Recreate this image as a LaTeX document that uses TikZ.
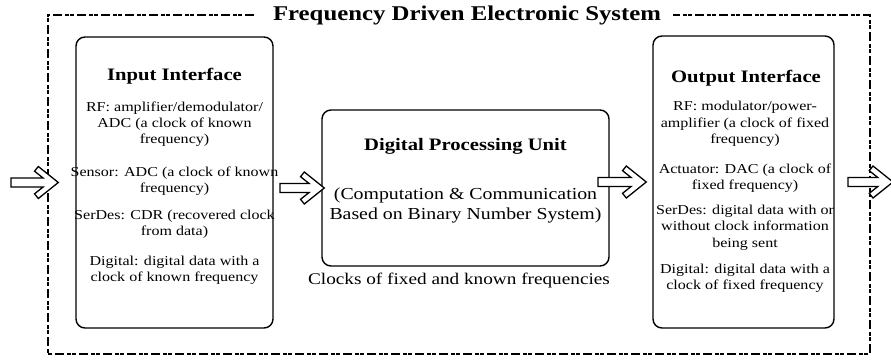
\documentclass[tikz,border=0pt]{standalone}
\usepackage{fontspec}
\setmainfont{Liberation Serif}[FakeStretch=1.18]
\usetikzlibrary{calc}

\tikzset{
  frame/.style={line width=2pt, dash pattern=on 9pt off 3pt on 4pt off 1pt on 4pt off 3pt},
  unit/.style={draw, line width=1.4pt, rounded corners=9pt, inner sep=0pt},
  head/.style={font=\fontsize{17.5}{20}\selectfont\bfseries, inner sep=0pt},
  body/.style={font=\fontsize{13.6}{16.3}\selectfont, align=center, inner sep=0pt},
  dpubody/.style={font=\fontsize{16.8}{20}\selectfont, align=center, inner sep=0pt},
  barrow/.style={draw, fill=white, line width=1.3pt, line join=miter},
}

% horizontal block arrow: tail x from #1, tip at #2
\newcommand\blockarrow[2]{%
  \draw[barrow] let \p1=(#1), \p2=(#2) in
    (\x1,\y2+4.5pt) -- (\x2-15.2pt,\y2+4.5pt) -- (\x2-23.75pt,\y2+11.3pt)
    -- (\x2-20pt,\y2+16pt) -- (\x2,\y2) -- (\x2-20pt,\y2-16pt)
    -- (\x2-23.75pt,\y2-11.3pt) -- (\x2-15.2pt,\y2-4.5pt) -- (\x1,\y2-4.5pt) -- cycle;}

\begin{document}
\begin{tikzpicture}[x=1pt,y=-1pt]
\useasboundingbox (0,0) rectangle (891,360);

% system title and dashed enclosure
\node[font=\fontsize{21}{24}\selectfont\bfseries, inner sep=0pt] (title) at (467,15)
  {Frequency Driven Electronic System};
\draw[frame] ([xshift=-19pt]title.west) -- (48,15) -- (48,354) -- (870,354)
  -- (870,15) -- ([xshift=12pt]title.east);

% main units
\node[unit, minimum width=197pt, minimum height=291pt] (inp) at (174.5,182.5) {};
\node[unit, minimum width=287pt, minimum height=156pt] (dpu) at (465.5,188) {};
\node[unit, minimum width=181pt, minimum height=292pt] (out) at (743.5,182) {};

% input interface
\node[head] (inph) at (174.5,76) {Input Interface};
\node[body] (inp1) at (174.5,124) {RF: amplifier/demodulator/\\ADC (a clock of known\\frequency)};
\node[body] (inp2) at (174.5,181) {Sensor: ADC (a clock of known\\frequency)};
\node[body] (inp3) at (174.5,224.5) {SerDes: CDR (recovered clock\\from data)};
\node[body] (inp4) at (174.5,270.5) {Digital: digital data with a\\clock of known frequency};

% digital processing unit
\node[head] (dpuh) at (465.5,146) {Digital Processing Unit};
\node[dpubody] (dpu1) at (465.5,205) {(Computation \& Communication\\Based on Binary Number System)};
\node[font=\fontsize{16.3}{19}\selectfont, inner sep=0pt] (clk) at (459,280)
  {Clocks of fixed and known frequencies};

% output interface
\node[head] (outh) at (746,78) {Output Interface};
\node[body] (out1) at (745,124) {RF: modulator/power-\\amplifier (a clock of fixed\\frequency)};
\node[body] (out2) at (745,178.5) {Actuator: DAC (a clock of\\fixed frequency)};
\node[body] (out3) at (745,227.5) {SerDes: digital data with or\\without clock information\\being sent};
\node[body] (out4) at (745,278.5) {Digital: digital data with a\\clock of fixed frequency};

% signal flow
\coordinate (src) at (11,182.5);
\coordinate (snk) at (848,182);
\coordinate (exit) at (893,182);
\blockarrow{src}{[xshift=-17pt]inp.west}
\blockarrow{280,188}{[xshift=3pt]dpu.west}
\blockarrow{598,182}{[xshift=-6pt]out.west}
\blockarrow{snk}{exit}
\end{tikzpicture}
\end{document}
